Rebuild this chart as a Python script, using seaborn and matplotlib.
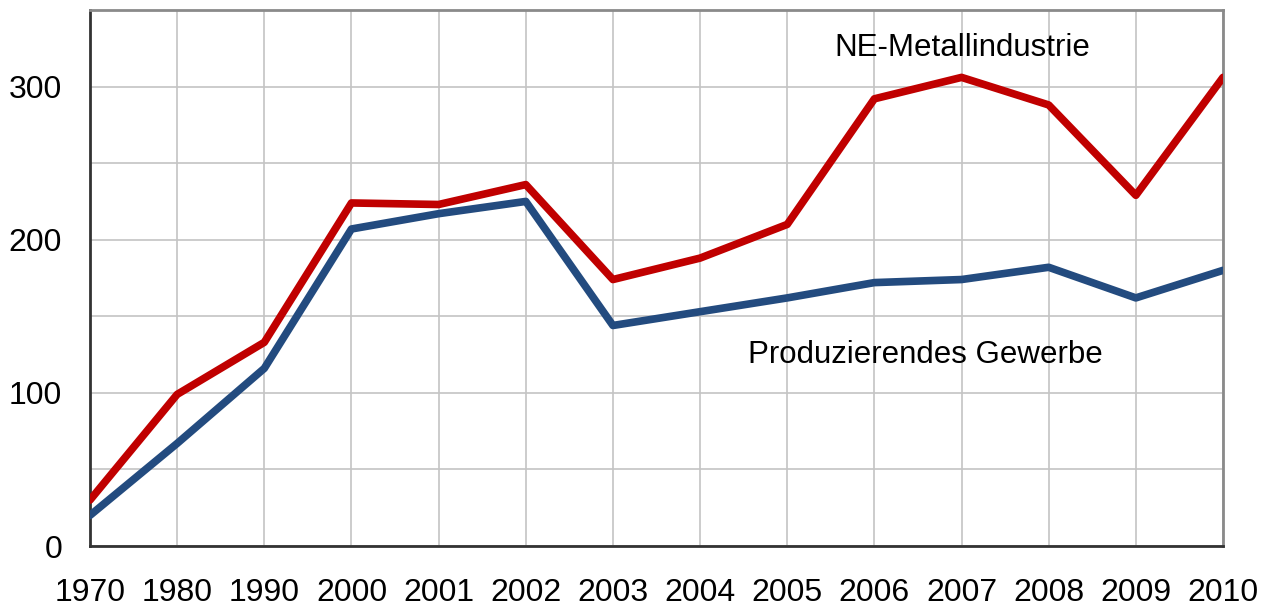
import matplotlib
matplotlib.use("Agg")
import matplotlib.pyplot as plt
import seaborn as sns
import pandas as pd

years = ["1970", "1980", "1990", "2000", "2001", "2002", "2003", "2004",
         "2005", "2006", "2007", "2008", "2009", "2010"]
ne_metall = [30, 99, 133, 224, 223, 236, 174, 188, 210, 292, 306, 288, 229, 306]
prod_gewerbe = [20, 67, 116, 207, 217, 225, 144, 153, 162, 172, 174, 182, 162, 180]
series_names = ["NE-Metallindustrie", "Produzierendes Gewerbe"]
y_ticks = [0, 100, 200, 300]

pos = list(range(len(years)))
df = pd.DataFrame({
    "pos": pos * 2,
    "value": ne_metall + prod_gewerbe,
    "series": [series_names[0]] * len(years) + [series_names[1]] * len(years),
})

sns.set_theme(style="white")
plt.rcParams["font.family"] = ["Liberation Sans", "DejaVu Sans"]

fig = plt.figure(figsize=(12.65, 6.08), dpi=100)
ax = fig.add_axes([90 / 1265, 62 / 608, (1223 - 90) / 1265, (546 - 10) / 608])

sns.lineplot(data=df, x="pos", y="value", hue="series",
             palette={series_names[0]: "#C00000", series_names[1]: "#234B7F"},
             linewidth=5.5, legend=False, ax=ax, zorder=3)

ax.set_xlim(0, len(years) - 1)
ax.set_ylim(0, 350)
ax.set_xticks(pos)
ax.set_xticklabels(years)
ax.set_yticks(y_ticks)
ax.set_yticks(list(range(0, 351, 50)), minor=True)
ax.grid(True, which="both", axis="y", color="#C4C4C4", linewidth=1.2)
ax.grid(True, which="major", axis="x", color="#C4C4C4", linewidth=1.2)
ax.set_axisbelow(True)
ax.set_xlabel("")
ax.set_ylabel("")
ax.tick_params(axis="x", which="both", length=0, pad=23, labelsize=23, colors="black")
ax.tick_params(axis="y", which="both", length=0, pad=20, labelsize=23, colors="black")

for side in ["left", "bottom"]:
    ax.spines[side].set_color("#333333")
    ax.spines[side].set_linewidth(2)
for side in ["top", "right"]:
    ax.spines[side].set_color("#8A8A8A")
    ax.spines[side].set_linewidth(2)

ax.text(10.01, 325.5, series_names[0], ha="center", va="center", fontsize=22.5, color="black")
ax.text(9.58, 124.5, series_names[1], ha="center", va="center", fontsize=22.5, color="black")

fig.savefig("out.png", dpi=100)
